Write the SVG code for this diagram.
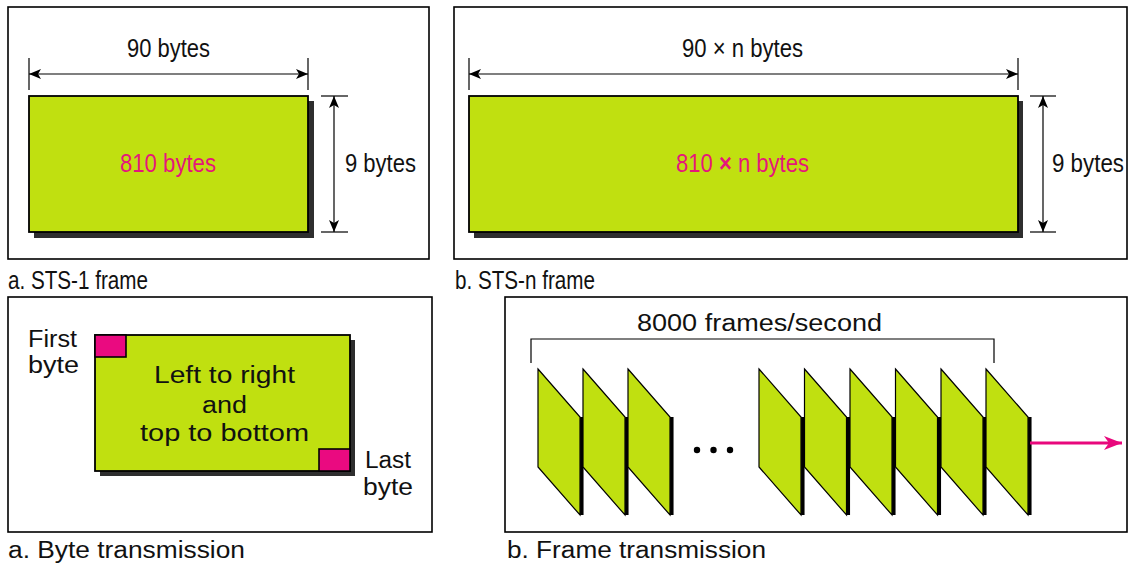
<svg xmlns="http://www.w3.org/2000/svg" width="1131" height="563" viewBox="0 0 1131 563">
  <style>
    .panel { fill: #ffffff; stroke: #000000; stroke-width: 1.6; }
    .block { fill: #c0e010; stroke: #000000; stroke-width: 1.8; }
    .shadow { fill: #2e2e2e; }
    .mark { fill: #ea0a80; stroke: #000000; stroke-width: 1.6; }
    .dim { stroke: #000000; stroke-width: 1.2; fill: none; }
    .t { font-family: "Liberation Sans", Arial, sans-serif; font-size: 23px; fill: #111111; }
    .big { font-size: 25px; }
    .pink { fill: #e5177a; }
    .frame { fill: #c0e010; stroke: #000000; stroke-width: 1.2; stroke-linejoin: miter; }
    .edge { stroke: #000000; stroke-width: 3.5; }
  </style>
  <defs>
    <marker id="tip" viewBox="0 0 12 10" refX="12" refY="5" markerWidth="12" markerHeight="10" markerUnits="userSpaceOnUse" orient="auto-start-reverse">
      <path d="M0,0 L12,5 L0,10 L3,5 Z" fill="#000000"/>
    </marker>
    <marker id="pinktip" viewBox="0 0 18 14" refX="18" refY="7" markerWidth="18" markerHeight="14" markerUnits="userSpaceOnUse" orient="auto">
      <path d="M0,0 L18,7 L0,14 L5,7 Z" fill="#e8087c"/>
    </marker>
    <g id="sheet">
      <path class="frame" d="M0,0 L42,48 L42,146 L0,98 Z"/>
      <line class="edge" x1="43.8" y1="48" x2="43.8" y2="146"/>
    </g>
  </defs>

  <!-- STS-1 frame -->
  <g id="sts1">
    <rect class="panel" x="8" y="7" width="421" height="252"/>
    <rect class="shadow" x="34" y="101" width="280" height="137"/>
    <rect class="block" x="29" y="96" width="279" height="136"/>
    <text class="t big pink" x="168" y="172" text-anchor="middle" textLength="96" lengthAdjust="spacingAndGlyphs">810 bytes</text>
  </g>
  <g id="sts1-dims">
    <line class="dim" x1="29" y1="58" x2="29" y2="90"/>
    <line class="dim" x1="308" y1="58" x2="308" y2="90"/>
    <line class="dim" x1="29" y1="74" x2="308" y2="74" marker-start="url(#tip)" marker-end="url(#tip)"/>
    <text class="t big" x="168.5" y="57" text-anchor="middle" textLength="83" lengthAdjust="spacingAndGlyphs">90 bytes</text>
    <line class="dim" x1="321" y1="96" x2="348" y2="96"/>
    <line class="dim" x1="321" y1="232" x2="348" y2="232"/>
    <line class="dim" x1="334" y1="96" x2="334" y2="232" marker-start="url(#tip)" marker-end="url(#tip)"/>
    <text class="t big" x="345" y="172" textLength="71" lengthAdjust="spacingAndGlyphs">9 bytes</text>
  </g>
  <text class="t big" x="8" y="289" textLength="140" lengthAdjust="spacingAndGlyphs">a. STS-1 frame</text>

  <!-- STS-n frame -->
  <g id="stsn">
    <rect class="panel" x="454" y="7" width="673" height="252"/>
    <rect class="shadow" x="474" y="101" width="549" height="137"/>
    <rect class="block" x="469" y="96" width="549" height="136"/>
    <text class="t big pink" x="742.5" y="172" text-anchor="middle" textLength="133" lengthAdjust="spacingAndGlyphs">810 <tspan font-weight="bold">×</tspan> n bytes</text>
  </g>
  <g id="stsn-dims">
    <line class="dim" x1="469" y1="58" x2="469" y2="90"/>
    <line class="dim" x1="1018" y1="58" x2="1018" y2="90"/>
    <line class="dim" x1="469" y1="74" x2="1018" y2="74" marker-start="url(#tip)" marker-end="url(#tip)"/>
    <text class="t big" x="742.5" y="57" text-anchor="middle" textLength="121" lengthAdjust="spacingAndGlyphs">90 × n bytes</text>
    <line class="dim" x1="1030" y1="96" x2="1056" y2="96"/>
    <line class="dim" x1="1030" y1="232" x2="1056" y2="232"/>
    <line class="dim" x1="1043" y1="96" x2="1043" y2="232" marker-start="url(#tip)" marker-end="url(#tip)"/>
    <text class="t big" x="1052" y="172" textLength="72" lengthAdjust="spacingAndGlyphs">9 bytes</text>
  </g>
  <text class="t big" x="455" y="289" textLength="140" lengthAdjust="spacingAndGlyphs">b. STS-n frame</text>

  <!-- Byte transmission -->
  <g id="byte-order">
    <rect class="panel" x="8" y="297" width="424" height="235"/>
    <rect class="shadow" x="100" y="340" width="255" height="136"/>
    <rect class="block" x="95" y="335" width="255" height="136"/>
    <rect class="mark" x="95" y="335" width="31" height="22"/>
    <rect class="mark" x="319" y="449" width="31" height="22"/>
    <text class="t" x="224.5" y="383" text-anchor="middle" textLength="141" lengthAdjust="spacingAndGlyphs">Left to right</text>
    <text class="t" x="224.5" y="413" text-anchor="middle" textLength="45" lengthAdjust="spacingAndGlyphs">and</text>
    <text class="t" x="224.5" y="441" text-anchor="middle" textLength="169" lengthAdjust="spacingAndGlyphs">top to bottom</text>
  </g>
  <g id="byte-labels">
    <text class="t" x="28" y="347" textLength="49" lengthAdjust="spacingAndGlyphs">First</text>
    <text class="t" x="28" y="373" textLength="51" lengthAdjust="spacingAndGlyphs">byte</text>
    <text class="t" x="365" y="468" textLength="46" lengthAdjust="spacingAndGlyphs">Last</text>
    <text class="t" x="363" y="495" textLength="50" lengthAdjust="spacingAndGlyphs">byte</text>
  </g>
  <text class="t" x="8" y="558" textLength="237" lengthAdjust="spacingAndGlyphs">a. Byte transmission</text>

  <!-- Frame transmission -->
  <rect class="panel" x="505" y="297" width="622" height="235"/>
  <g id="rate">
    <path class="dim" d="M531,363 V339 H994 V363"/>
    <text class="t" x="759.5" y="331" text-anchor="middle" textLength="245" lengthAdjust="spacingAndGlyphs">8000 frames/second</text>
  </g>
  <g id="frames">
    <use href="#sheet" x="538" y="369"/>
    <use href="#sheet" x="583" y="369"/>
    <use href="#sheet" x="628" y="369"/>
    <use href="#sheet" x="759" y="369"/>
    <use href="#sheet" x="804.5" y="369"/>
    <use href="#sheet" x="850" y="369"/>
    <use href="#sheet" x="895.5" y="369"/>
    <use href="#sheet" x="941" y="369"/>
    <use href="#sheet" x="986" y="369"/>
  </g>
  <g id="ellipsis" fill="#000000">
    <circle cx="697" cy="450" r="3.2"/>
    <circle cx="713.5" cy="450" r="3.2"/>
    <circle cx="730" cy="450" r="3.2"/>
  </g>
  <g id="connectors">
    <line x1="1030" y1="443" x2="1122" y2="443" stroke="#e8087c" stroke-width="3" marker-end="url(#pinktip)"/>
  </g>
  <text class="t" x="507" y="558" textLength="259" lengthAdjust="spacingAndGlyphs">b. Frame transmission</text>
</svg>
